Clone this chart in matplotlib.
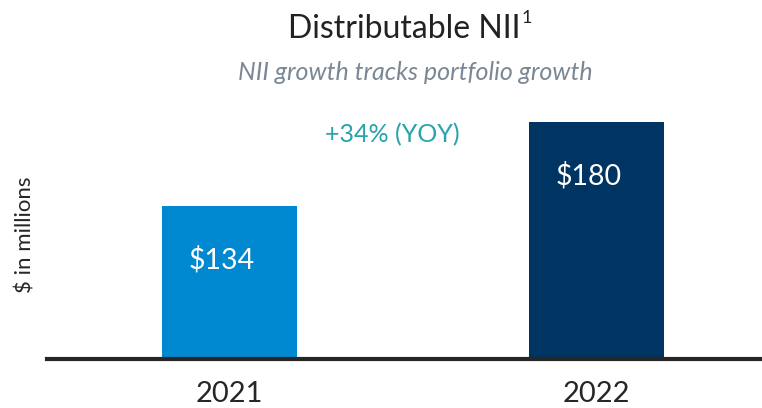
import matplotlib

matplotlib.use("Agg")

import matplotlib.pyplot as plt

years = ["2021", "2022"]
nii = [134, 180]
bar_labels = ["$134", "$180"]
bar_colors = ["#0089d0", "#003462"]
growth_note = "+34% (YOY)"

plt.rcParams["font.family"] = ["Lato", "DejaVu Sans"]

fig = plt.figure(figsize=(7.62, 4.08), dpi=100)
ax = fig.add_axes([0.0617, 0.1201, 0.9383, 0.6103])

x = list(range(len(years)))
ax.bar(x, nii, width=0.368, color=bar_colors, bottom=0)
ax.set_xlim(-0.497, 1.451)
ax.set_ylim(50, 186.4)

for xi, v, lab in zip(x, nii, bar_labels):
    ax.text(xi - 0.02, v - 29.5, lab, ha="center", va="center", color="white", fontsize=20.5)

ax.text(0.445, 172.7, growth_note, ha="center", va="center", color="#26a3ad", fontsize=18)

for side in ("top", "right", "left"):
    ax.spines[side].set_visible(False)
ax.spines["bottom"].set_linewidth(3)
ax.spines["bottom"].set_color("#262626")
ax.set_yticks([])
ax.set_xticks(x)
ax.set_xticklabels(years, fontsize=21, color="#262626")
ax.tick_params(axis="x", length=0, pad=16)
ax.set_ylabel("$ in millions", fontsize=16, color="#262626", labelpad=8)

# title with a small raised footnote mark
title = fig.text(0.5, 0.93, "Distributable NII", ha="center", va="center", fontsize=23, color="#222222")
fig.canvas.draw()
tw = title.get_window_extent().width / fig.bbox.width
left = 0.5365 - 0.006 - tw / 2
title.set_position((left, 0.93))
title.set_horizontalalignment("left")
fig.text(left + tw + 0.001, 0.955, "1", ha="left", va="center", fontsize=13, color="#222222")

fig.text(0.545, 0.823, "NII growth tracks portfolio growth", ha="center", va="center",
         fontsize=18, style="italic", color="#7b8794")

fig.savefig("out.png", dpi=100)
